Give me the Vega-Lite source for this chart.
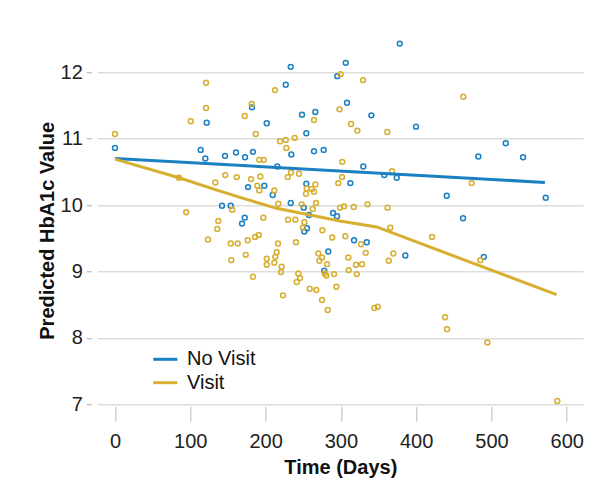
{
  "$schema": "https://vega.github.io/schema/vega-lite/v6.json",
  "width": 486,
  "height": 372,
  "autosize": {"type": "none"},
  "padding": {"left": 97.3, "top": 32.3, "right": 22.7, "bottom": 97.7},
  "background": "white",
  "config": {"view": {"stroke": null}},
  "datasets": {
    "points": [
      {"days": 0, "hba1c": 10.86, "group": "No Visit"},
      {"days": 113.8, "hba1c": 10.83, "group": "No Visit"},
      {"days": 120, "hba1c": 10.7, "group": "No Visit"},
      {"days": 121.8, "hba1c": 11.24, "group": "No Visit"},
      {"days": 142.1, "hba1c": 9.99, "group": "No Visit"},
      {"days": 233.4, "hba1c": 12.08, "group": "No Visit"},
      {"days": 226.8, "hba1c": 11.81, "group": "No Visit"},
      {"days": 182, "hba1c": 11.47, "group": "No Visit"},
      {"days": 201.5, "hba1c": 11.23, "group": "No Visit"},
      {"days": 248.4, "hba1c": 11.36, "group": "No Visit"},
      {"days": 266.1, "hba1c": 11.4, "group": "No Visit"},
      {"days": 254.1, "hba1c": 11.08, "group": "No Visit"},
      {"days": 234.2, "hba1c": 10.76, "group": "No Visit"},
      {"days": 264.3, "hba1c": 10.81, "group": "No Visit"},
      {"days": 277.2, "hba1c": 10.83, "group": "No Visit"},
      {"days": 146.1, "hba1c": 10.74, "group": "No Visit"},
      {"days": 160.7, "hba1c": 10.79, "group": "No Visit"},
      {"days": 172.7, "hba1c": 10.72, "group": "No Visit"},
      {"days": 183.3, "hba1c": 10.8, "group": "No Visit"},
      {"days": 215.6, "hba1c": 10.58, "group": "No Visit"},
      {"days": 176.7, "hba1c": 10.27, "group": "No Visit"},
      {"days": 198.3, "hba1c": 10.29, "group": "No Visit"},
      {"days": 254.1, "hba1c": 10.32, "group": "No Visit"},
      {"days": 209.5, "hba1c": 10.15, "group": "No Visit"},
      {"days": 153.7, "hba1c": 9.99, "group": "No Visit"},
      {"days": 233.4, "hba1c": 10.03, "group": "No Visit"},
      {"days": 250.7, "hba1c": 9.96, "group": "No Visit"},
      {"days": 289.6, "hba1c": 9.88, "group": "No Visit"},
      {"days": 294.9, "hba1c": 9.83, "group": "No Visit"},
      {"days": 172.3, "hba1c": 9.81, "group": "No Visit"},
      {"days": 257.7, "hba1c": 9.85, "group": "No Visit"},
      {"days": 378.2, "hba1c": 12.43, "group": "No Visit"},
      {"days": 306.5, "hba1c": 12.14, "group": "No Visit"},
      {"days": 295.3, "hba1c": 11.94, "group": "No Visit"},
      {"days": 308.2, "hba1c": 11.54, "group": "No Visit"},
      {"days": 340.5, "hba1c": 11.35, "group": "No Visit"},
      {"days": 399.8, "hba1c": 11.18, "group": "No Visit"},
      {"days": 329.8, "hba1c": 10.58, "group": "No Visit"},
      {"days": 357.7, "hba1c": 10.45, "group": "No Visit"},
      {"days": 374.2, "hba1c": 10.41, "group": "No Visit"},
      {"days": 312.6, "hba1c": 10.33, "group": "No Visit"},
      {"days": 440.6, "hba1c": 10.14, "group": "No Visit"},
      {"days": 519, "hba1c": 10.93, "group": "No Visit"},
      {"days": 482.6, "hba1c": 10.73, "group": "No Visit"},
      {"days": 542, "hba1c": 10.72, "group": "No Visit"},
      {"days": 572.1, "hba1c": 10.11, "group": "No Visit"},
      {"days": 462.3, "hba1c": 9.8, "group": "No Visit"},
      {"days": 489.8, "hba1c": 9.22, "group": "No Visit"},
      {"days": 168.7, "hba1c": 9.72, "group": "No Visit"},
      {"days": 251.5, "hba1c": 9.6, "group": "No Visit"},
      {"days": 255, "hba1c": 9.65, "group": "No Visit"},
      {"days": 283.3, "hba1c": 9.3, "group": "No Visit"},
      {"days": 278, "hba1c": 9.01, "group": "No Visit"},
      {"days": 317.5, "hba1c": 9.47, "group": "No Visit"},
      {"days": 334.4, "hba1c": 9.44, "group": "No Visit"},
      {"days": 385.6, "hba1c": 9.24, "group": "No Visit"},
      {"days": 120.9, "hba1c": 11.84, "group": "Visit"},
      {"days": 120.9, "hba1c": 11.46, "group": "Visit"},
      {"days": 100.6, "hba1c": 11.26, "group": "Visit"},
      {"days": 0, "hba1c": 11.07, "group": "Visit"},
      {"days": 85, "hba1c": 10.41, "group": "Visit"},
      {"days": 133.2, "hba1c": 10.34, "group": "Visit"},
      {"days": 94.6, "hba1c": 9.89, "group": "Visit"},
      {"days": 137.2, "hba1c": 9.76, "group": "Visit"},
      {"days": 135.8, "hba1c": 9.64, "group": "Visit"},
      {"days": 123.5, "hba1c": 9.48, "group": "Visit"},
      {"days": 212.5, "hba1c": 11.73, "group": "Visit"},
      {"days": 181.6, "hba1c": 11.52, "group": "Visit"},
      {"days": 172.3, "hba1c": 11.34, "group": "Visit"},
      {"days": 186.9, "hba1c": 11.07, "group": "Visit"},
      {"days": 264.3, "hba1c": 11.28, "group": "Visit"},
      {"days": 219.2, "hba1c": 10.96, "group": "Visit"},
      {"days": 226.8, "hba1c": 10.98, "group": "Visit"},
      {"days": 238.7, "hba1c": 11.01, "group": "Visit"},
      {"days": 227.6, "hba1c": 10.86, "group": "Visit"},
      {"days": 191.7, "hba1c": 10.68, "group": "Visit"},
      {"days": 197.5, "hba1c": 10.68, "group": "Visit"},
      {"days": 146.5, "hba1c": 10.45, "group": "Visit"},
      {"days": 161.7, "hba1c": 10.42, "group": "Visit"},
      {"days": 180.7, "hba1c": 10.39, "group": "Visit"},
      {"days": 193, "hba1c": 10.43, "group": "Visit"},
      {"days": 233.8, "hba1c": 10.49, "group": "Visit"},
      {"days": 244.4, "hba1c": 10.47, "group": "Visit"},
      {"days": 229.4, "hba1c": 10.42, "group": "Visit"},
      {"days": 189, "hba1c": 10.29, "group": "Visit"},
      {"days": 191.7, "hba1c": 10.22, "group": "Visit"},
      {"days": 266.1, "hba1c": 10.31, "group": "Visit"},
      {"days": 254.7, "hba1c": 10.25, "group": "Visit"},
      {"days": 261.3, "hba1c": 10.24, "group": "Visit"},
      {"days": 253.7, "hba1c": 10.17, "group": "Visit"},
      {"days": 264.3, "hba1c": 10.2, "group": "Visit"},
      {"days": 211.6, "hba1c": 10.22, "group": "Visit"},
      {"days": 155.8, "hba1c": 9.93, "group": "Visit"},
      {"days": 216.9, "hba1c": 10.02, "group": "Visit"},
      {"days": 248, "hba1c": 10.01, "group": "Visit"},
      {"days": 267, "hba1c": 10.03, "group": "Visit"},
      {"days": 262.6, "hba1c": 9.94, "group": "Visit"},
      {"days": 197, "hba1c": 9.81, "group": "Visit"},
      {"days": 299.6, "hba1c": 11.97, "group": "Visit"},
      {"days": 298.2, "hba1c": 11.44, "group": "Visit"},
      {"days": 329.4, "hba1c": 11.88, "group": "Visit"},
      {"days": 313.5, "hba1c": 11.22, "group": "Visit"},
      {"days": 321.9, "hba1c": 11.12, "group": "Visit"},
      {"days": 361.7, "hba1c": 11.1, "group": "Visit"},
      {"days": 301.9, "hba1c": 10.65, "group": "Visit"},
      {"days": 368, "hba1c": 10.51, "group": "Visit"},
      {"days": 301.6, "hba1c": 10.42, "group": "Visit"},
      {"days": 296.6, "hba1c": 10.33, "group": "Visit"},
      {"days": 298.9, "hba1c": 9.96, "group": "Visit"},
      {"days": 304.2, "hba1c": 9.98, "group": "Visit"},
      {"days": 317.1, "hba1c": 9.97, "group": "Visit"},
      {"days": 335.4, "hba1c": 10.01, "group": "Visit"},
      {"days": 362, "hba1c": 9.96, "group": "Visit"},
      {"days": 462.7, "hba1c": 11.63, "group": "Visit"},
      {"days": 473.8, "hba1c": 10.33, "group": "Visit"},
      {"days": 485.3, "hba1c": 9.17, "group": "Visit"},
      {"days": 494.6, "hba1c": 7.93, "group": "Visit"},
      {"days": 587.5, "hba1c": 7.05, "group": "Visit"},
      {"days": 365.7, "hba1c": 9.66, "group": "Visit"},
      {"days": 421.1, "hba1c": 9.52, "group": "Visit"},
      {"days": 288.5, "hba1c": 9.51, "group": "Visit"},
      {"days": 305.9, "hba1c": 9.53, "group": "Visit"},
      {"days": 326.8, "hba1c": 9.41, "group": "Visit"},
      {"days": 309.9, "hba1c": 9.21, "group": "Visit"},
      {"days": 333, "hba1c": 9.28, "group": "Visit"},
      {"days": 369.7, "hba1c": 9.27, "group": "Visit"},
      {"days": 363.6, "hba1c": 9.16, "group": "Visit"},
      {"days": 320.1, "hba1c": 9.1, "group": "Visit"},
      {"days": 328.1, "hba1c": 9.11, "group": "Visit"},
      {"days": 310.4, "hba1c": 9.02, "group": "Visit"},
      {"days": 321.1, "hba1c": 8.96, "group": "Visit"},
      {"days": 290.9, "hba1c": 8.96, "group": "Visit"},
      {"days": 294, "hba1c": 8.77, "group": "Visit"},
      {"days": 344.5, "hba1c": 8.45, "group": "Visit"},
      {"days": 349, "hba1c": 8.47, "group": "Visit"},
      {"days": 438.4, "hba1c": 8.31, "group": "Visit"},
      {"days": 441, "hba1c": 8.13, "group": "Visit"},
      {"days": 229.8, "hba1c": 9.78, "group": "Visit"},
      {"days": 239.5, "hba1c": 9.78, "group": "Visit"},
      {"days": 251.5, "hba1c": 9.74, "group": "Visit"},
      {"days": 249.7, "hba1c": 9.66, "group": "Visit"},
      {"days": 275.4, "hba1c": 9.62, "group": "Visit"},
      {"days": 153.7, "hba1c": 9.42, "group": "Visit"},
      {"days": 163, "hba1c": 9.42, "group": "Visit"},
      {"days": 176.3, "hba1c": 9.47, "group": "Visit"},
      {"days": 186, "hba1c": 9.52, "group": "Visit"},
      {"days": 190.9, "hba1c": 9.55, "group": "Visit"},
      {"days": 216.5, "hba1c": 9.42, "group": "Visit"},
      {"days": 240.4, "hba1c": 9.44, "group": "Visit"},
      {"days": 154.5, "hba1c": 9.17, "group": "Visit"},
      {"days": 173.6, "hba1c": 9.25, "group": "Visit"},
      {"days": 201.5, "hba1c": 9.19, "group": "Visit"},
      {"days": 201.5, "hba1c": 9.1, "group": "Visit"},
      {"days": 211.6, "hba1c": 9.13, "group": "Visit"},
      {"days": 214.8, "hba1c": 9.29, "group": "Visit"},
      {"days": 212.9, "hba1c": 9.22, "group": "Visit"},
      {"days": 270.1, "hba1c": 9.27, "group": "Visit"},
      {"days": 271.4, "hba1c": 9.16, "group": "Visit"},
      {"days": 275, "hba1c": 9.21, "group": "Visit"},
      {"days": 281.6, "hba1c": 9.11, "group": "Visit"},
      {"days": 278.6, "hba1c": 8.97, "group": "Visit"},
      {"days": 280.7, "hba1c": 8.94, "group": "Visit"},
      {"days": 221.4, "hba1c": 9.07, "group": "Visit"},
      {"days": 220.5, "hba1c": 8.99, "group": "Visit"},
      {"days": 183.3, "hba1c": 8.92, "group": "Visit"},
      {"days": 243.5, "hba1c": 8.97, "group": "Visit"},
      {"days": 245.8, "hba1c": 8.9, "group": "Visit"},
      {"days": 241.4, "hba1c": 8.84, "group": "Visit"},
      {"days": 258.6, "hba1c": 8.74, "group": "Visit"},
      {"days": 267.4, "hba1c": 8.72, "group": "Visit"},
      {"days": 223.2, "hba1c": 8.64, "group": "Visit"},
      {"days": 275, "hba1c": 8.57, "group": "Visit"},
      {"days": 282.5, "hba1c": 8.42, "group": "Visit"}
    ],
    "fits": [
      {"days": 0, "hba1c": 10.7, "group": "No Visit"},
      {"days": 571, "hba1c": 10.34, "group": "No Visit"},
      {"days": 0, "hba1c": 10.69, "group": "Visit"},
      {"days": 85, "hba1c": 10.41, "group": "Visit"},
      {"days": 139.5, "hba1c": 10.21, "group": "Visit"},
      {"days": 170.4, "hba1c": 10.1, "group": "Visit"},
      {"days": 214.8, "hba1c": 9.95, "group": "Visit"},
      {"days": 259, "hba1c": 9.85, "group": "Visit"},
      {"days": 298.9, "hba1c": 9.76, "group": "Visit"},
      {"days": 347.6, "hba1c": 9.67, "group": "Visit"},
      {"days": 586.5, "hba1c": 8.65, "group": "Visit"}
    ]
  },
  "resolve": {"axis": {"x": "independent", "y": "independent"}},
  "layer": [
    {
      "data": {"name": "points"},
      "mark": {"type": "point", "shape": "circle", "filled": false, "size": 24, "strokeWidth": 1.5, "opacity": 1},
      "encoding": {
        "x": {
          "field": "days", "type": "quantitative",
          "scale": {"domain": [-23.5, 622], "nice": false, "zero": false},
          "axis": {
            "orient": "bottom", "offset": 2, "grid": false, "domain": false,
            "values": [0, 100, 200, 300, 400, 500, 600],
            "tickSize": 15, "tickColor": "#d0d0d0", "tickWidth": 1.5,
            "labelPadding": 10, "labelFont": "Liberation Sans", "labelFontSize": 20, "labelColor": "#222222",
            "title": "Time (Days)", "titleFont": "Liberation Sans", "titleFontSize": 20, "titleFontWeight": "bold",
            "titleColor": "#111111", "titleBaseline": "alphabetic", "titleY": 67, "titleX": 243
          }
        },
        "y": {
          "field": "hba1c", "type": "quantitative",
          "scale": {"domain": [7, 12.6], "nice": false, "zero": false},
          "axis": {
            "orient": "left", "grid": true, "gridColor": "#dddddd", "gridWidth": 1.5,
            "values": [7, 8, 9, 10, 11, 12],
            "ticks": false, "labels": false, "domain": false,
            "title": "Predicted HbA1c Value", "titleFont": "Liberation Sans", "titleFontSize": 20, "titleFontWeight": "bold",
            "titleColor": "#111111", "titleBaseline": "alphabetic", "titleX": -44, "titleY": 198
          }
        },
        "color": {
          "field": "group", "type": "nominal",
          "scale": {"domain": ["No Visit", "Visit"], "range": ["#1b80c2", "#d6ae30"]},
          "legend": {
            "orient": "none", "legendX": 58, "legendY": 317, "title": null,
            "symbolType": "M-2,0L2,0", "symbolSize": 144, "symbolStrokeWidth": 3,
            "labelFont": "Liberation Sans", "labelFontSize": 20, "labelColor": "#111111",
            "labelOffset": 11.7, "rowPadding": 3.4, "padding": 0
          }
        }
      }
    },
    {
      "data": {"name": "fits"},
      "mark": {"type": "line", "strokeWidth": 3},
      "encoding": {
        "x": {"field": "days", "type": "quantitative", "axis": null},
        "y": {
          "field": "hba1c", "type": "quantitative",
          "axis": {
            "orient": "left", "offset": 6, "grid": false, "domain": false,
            "values": [7, 8, 9, 10, 11, 12],
            "tickSize": 5, "tickColor": "#aaaaaa", "tickWidth": 1,
            "labelPadding": 4, "labelFont": "Liberation Sans", "labelFontSize": 20, "labelColor": "#222222",
            "title": null
          }
        },
        "color": {
          "field": "group", "type": "nominal",
          "legend": {
            "orient": "none", "legendX": 58, "legendY": 317, "title": null,
            "symbolType": "M-2,0L2,0", "symbolSize": 144, "symbolStrokeWidth": 3,
            "labelFont": "Liberation Sans", "labelFontSize": 20, "labelColor": "#111111",
            "labelOffset": 11.7, "rowPadding": 3.4, "padding": 0
          }
        }
      }
    }
  ]
}
